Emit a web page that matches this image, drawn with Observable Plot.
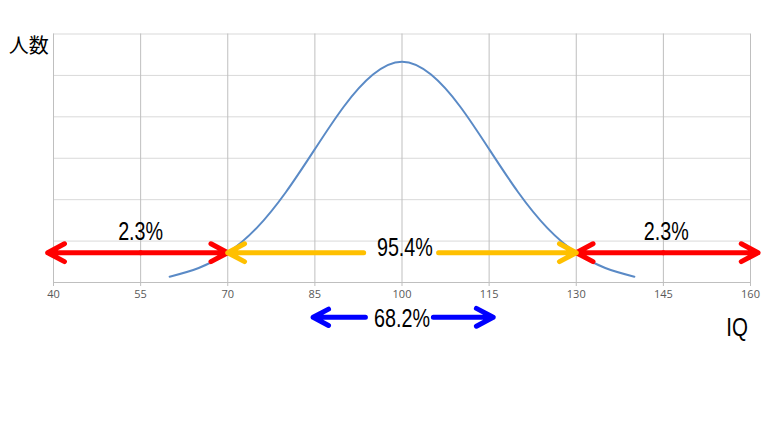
<!DOCTYPE html>
<html>
<head>
<meta charset="utf-8">
<script src="https://cdn.jsdelivr.net/npm/d3@7"></script>
<script src="https://cdn.jsdelivr.net/npm/@observablehq/plot@0.6"></script>
<style>
  html, body { margin: 0; padding: 0; background: #fff; }
</style>
</head>
<body>
<div id="chart"></div>
<script>
// Tick labels on the IQ axis
const xTicks = [40, 55, 70, 85, 100, 115, 130, 145, 160];
// Horizontal grid levels (no labels)
const yGrid = [1, 2, 3, 4, 5, 6];
// Bell curve (height in grid units)
const curveIQ = [60, 65, 70, 75, 80, 85, 90, 95, 100, 105, 110, 115, 120, 125, 130, 135, 140];
const curveCount = [0.14, 0.35, 0.72, 1.32, 2.18, 3.22, 4.25, 5.02, 5.33, 5.02, 4.25, 3.22, 2.18, 1.32, 0.72, 0.35, 0.14];

// Arrow segments (each drawn from the middle outwards)
const redArrows = [
  {x1: 55, x2: 39, y: 0.72}, {x1: 55, x2: 70, y: 0.72},
  {x1: 145, x2: 130, y: 0.72}, {x1: 145, x2: 161.3, y: 0.72}
];
const yellowArrows = [
  {x1: 93.4, x2: 70, y: 0.72}, {x1: 106.3, x2: 130, y: 0.72}
];
const blueArrows = [
  {x1: 93.7, x2: 84.7, y: -0.84}, {x1: 105.4, x2: 115.7, y: -0.84}
];

// Labels
const pctLabels = [
  {x: 55, y: 1.21, text: "2.3%"},
  {x: 100.5, y: 0.84, text: "95.4%"},
  {x: 145.5, y: 1.23, text: "2.3%"},
  {x: 100, y: -0.89, text: "68.2%"}
];
const xTitle = [{x: 157.7, y: -1.1, text: "IQ"}];
const yTitle = [{x: 35.75, y: 5.69, text: "人数"}];

const curveData = curveIQ.map((x, i) => ({x, y: curveCount[i]}));

const arrowOpts = (color) => ({
  x1: "x1", x2: "x2", y1: "y", y2: "y",
  stroke: color, strokeWidth: 5,
  headAngle: 56, headLength: 5.7,
  strokeLinecap: "round", strokeLinejoin: "round"
});

const chart = Plot.plot({
  width: 768,
  height: 432,
  marginLeft: 53,
  marginRight: 18,
  marginTop: 33.5,
  marginBottom: 150,
  x: {domain: [40, 160], ticks: xTicks},
  y: {domain: [0, 6], axis: null},
  style: {background: "#fff", overflow: "visible"},
  marks: [
    Plot.ruleY(yGrid, {x1: 40, x2: 160, stroke: "#d9d9d9", strokeWidth: 1, strokeOpacity: 1}),
    Plot.ruleX(xTicks, {y1: 0, y2: 6, stroke: "#bfbfbf", strokeWidth: 1, strokeOpacity: 1}),
    Plot.ruleY([0], {x1: 40, x2: 160, stroke: "#bfbfbf", strokeWidth: 1}),
    Plot.axisX({
      ticks: xTicks, tickSize: 4, tickPadding: 4, stroke: "#bfbfbf",
      fill: "#595959", fontSize: 11, fontFamily: "Open Sans, sans-serif",
      label: null
    }),
    Plot.line(curveData, {x: "x", y: "y", stroke: "#5a8ac6", strokeWidth: 2, curve: "natural"}),
    Plot.arrow(redArrows, arrowOpts("#ff0000")),
    Plot.arrow(yellowArrows, arrowOpts("#ffc000")),
    Plot.arrow(blueArrows, arrowOpts("#0000ff")),
    Plot.text(pctLabels, {x: "x", y: "y", text: "text", fontSize: 25, fontFamily: "Liberation Sans, Arial, sans-serif", fill: "#000"}),
    Plot.text(xTitle, {x: "x", y: "y", text: "text", fontSize: 26, fontFamily: "Liberation Sans, Arial, sans-serif", fill: "#000"}),
    Plot.text(yTitle, {x: "x", y: "y", text: "text", fontSize: 20, fontFamily: "Noto Sans CJK JP, sans-serif", fill: "#000"})
  ]
});
// condense the label glyphs horizontally, like the reference's narrow font
const narrowTexts = new Set([...pctLabels, ...xTitle].map((d) => d.text));
d3.select(chart).selectAll("text").filter(function () {
  return narrowTexts.has(this.textContent);
}).each(function () {
  const t = this.getAttribute("transform");
  if (t) {
    this.setAttribute("transform", t + " scale(0.79,1)");
  } else {
    const x = +(this.getAttribute("x") || 0), y = +(this.getAttribute("y") || 0);
    this.removeAttribute("x");
    this.removeAttribute("y");
    this.setAttribute("transform", `translate(${x},${y}) scale(0.79,1)`);
  }
});
document.getElementById("chart").appendChild(chart);
</script>
</body>
</html>
